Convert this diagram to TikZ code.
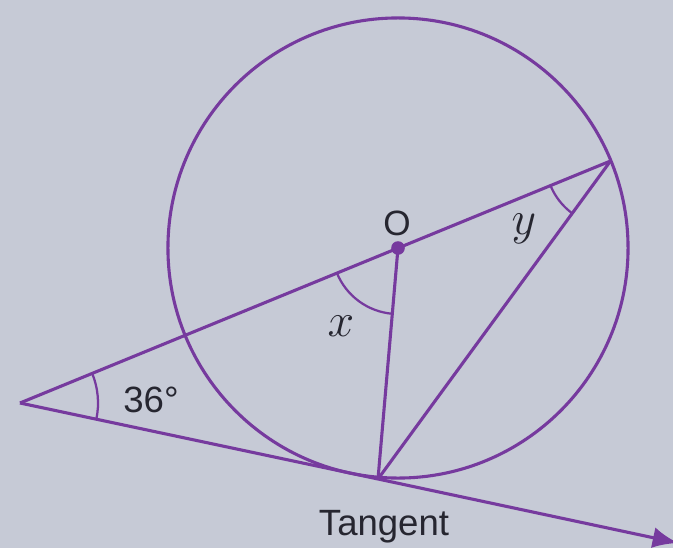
\RequirePackage{fix-cm}
\documentclass[tikz,border=0pt]{standalone}
\usepackage{fontspec}
\setmainfont{Liberation Sans}
\usepackage{tikz}
\usetikzlibrary{arrows.meta, positioning, calc, angles}

\definecolor{geopurple}{RGB}{118,58,158}
\definecolor{paper}{RGB}{198,202,214}
\definecolor{ink}{RGB}{38,38,48}

\begin{document}
\begin{tikzpicture}[x=0.025cm, y=-0.025cm,
    geoline/.style={draw=geopurple, line width=2.2pt},
    anglemark/.style={draw=geopurple, line width=1.6pt},
    lbl/.style={text=ink, inner sep=0pt, font=\fontsize{26}{30}\selectfont},
    mathlbl/.style={text=ink, inner sep=0pt, font=\fontsize{34}{38}\selectfont}]
  \fill[paper] (0,0) rectangle (673,548);
  \useasboundingbox (0,0) rectangle (673,548);

  % points
  \coordinate (O) at (398,248);
  \coordinate (P) at (20,403);
  \coordinate (T) at (378,479);
  \coordinate (A) at (610.5,161);
  \coordinate (E) at (678,543);

  \draw[geoline] (O) circle[radius=5.75cm];
  \draw[geoline] (P) -- (A);
  \draw[geoline, -{Latex[length=18pt,width=15pt]}] (P) -- (T) -- (E);
  \draw[geoline] (O) -- (T);
  \draw[geoline] (T) -- (A);

  % angle marks
  \pic[anglemark, angle radius=1.95cm] {angle = T--P--O};
  \pic[anglemark, angle radius=1.65cm] {angle = P--O--T};
  \pic[anglemark, angle radius=1.62cm] {angle = O--A--T};

  \fill[geopurple] (O) circle[radius=0.17cm];

  % labels
  \node[lbl, font=\fontsize{25}{29}\selectfont] (lblO) at (397,223) {O};
  \node[lbl] (lblP) at (151,400) {36°};
  \node[mathlbl] (lblx) at (341,326) {$x$};
  \node[mathlbl] (lbly) at (524,229) {$y$};
  \node[lbl] (lblT) at (384,527) {Tangent};
\end{tikzpicture}
\end{document}
